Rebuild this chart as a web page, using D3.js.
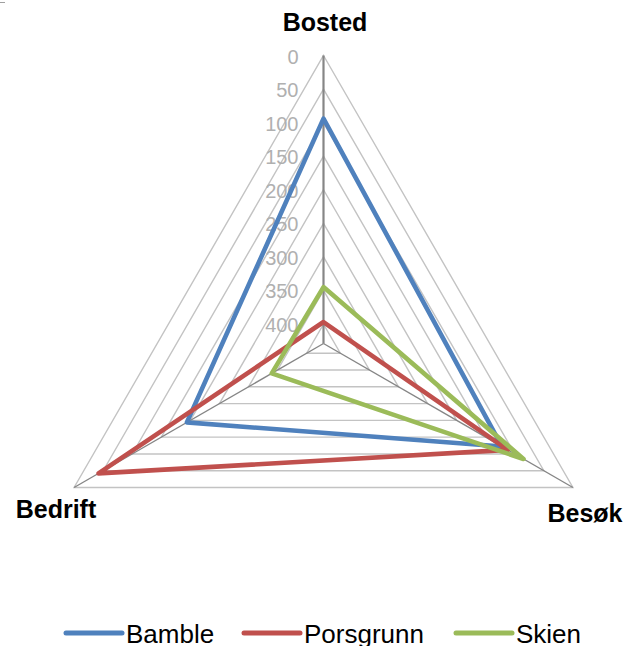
<!DOCTYPE html>
<html>
<head>
<meta charset="utf-8">
<script src="https://cdnjs.cloudflare.com/ajax/libs/d3/7.8.5/d3.min.js"></script>
<style>
  body { margin: 0; background: #fff; }
  svg { font-family: "Liberation Sans", Arial, sans-serif; }
</style>
</head>
<body>
<svg id="chart" width="639" height="646"></svg>
<script>
// data
var axes = ["Bosted", "Besøk", "Bedrift"];
var seriesNames = ["Bamble", "Porsgrunn", "Skien"];
var bamble = [94, 122, 194];
var porsgrunn = [397, 112, 42];
var skien = [345, 85, 340];
var tickValues = [0, 50, 100, 150, 200, 250, 300, 350, 400];
var colors = ["#4F81BD", "#C0504D", "#9BBB59"];

var cx = 323.5, cy = 343.5, R = 288;
var angles = [-90, 30, 150].map(a => a * Math.PI / 180);

// reversed value axis: 0 at the rim, max at the centre
var rScale = d3.scaleLinear().domain([0, 429]).range([R, 0]);

var svg = d3.select("#chart");

function pt(i, v) {
    var r = rScale(v);
    return [cx + r * Math.cos(angles[i]), cy + r * Math.sin(angles[i])];
}

// tiny border fragment top-left
svg.append("rect").attr("x", 0).attr("y", 2).attr("width", 5).attr("height", 1).attr("fill", "#a0a0a0");

// gridlines
var grid = svg.append("g").attr("id", "grid");
grid.selectAll("polygon")
    .data(tickValues)
    .enter().append("polygon")
    .attr("points", d => axes.map((a, i) => pt(i, d).join(",")).join(" "))
    .attr("fill", "none")
    .attr("stroke", "#c3c3c3")
    .attr("stroke-width", 1.4);

// spokes
svg.append("g").selectAll("line")
    .data(axes)
    .enter().append("line")
    .attr("x1", cx).attr("y1", cy)
    .attr("x2", (d, i) => pt(i, 0)[0])
    .attr("y2", (d, i) => pt(i, 0)[1])
    .attr("stroke", "#868686")
    .attr("stroke-width", (d, i) => i == 0 ? 2.2 : 1.4);

// tick labels along Bosted axis
svg.append("g").selectAll("text")
    .data(tickValues)
    .enter().append("text")
    .attr("x", cx - 25)
    .attr("y", d => cy - rScale(d) + 8)
    .attr("text-anchor", "end")
    .attr("font-size", 20)
    .attr("fill", "#b0b0b0")
    .text(d => d);

// series
var allSeries = [bamble, porsgrunn, skien];
var lineGen = d3.line().curve(d3.curveLinearClosed);
svg.append("g").selectAll("path")
    .data(allSeries)
    .enter().append("path")
    .attr("d", s => lineGen(s.map((v, i) => pt(i, v))))
    .attr("fill", "none")
    .attr("stroke", (d, i) => colors[i])
    .attr("stroke-width", 4.6)
    .attr("stroke-linejoin", "round");

// category labels
var labelPos = [
    {x: 325, y: 31, anchor: "middle"},
    {x: 585, y: 522, anchor: "middle"},
    {x: 56, y: 518, anchor: "middle"}
];
svg.append("g").selectAll("text")
    .data(axes)
    .enter().append("text")
    .attr("x", (d, i) => labelPos[i].x)
    .attr("y", (d, i) => labelPos[i].y)
    .attr("text-anchor", (d, i) => labelPos[i].anchor)
    .attr("font-size", 25)
    .attr("font-weight", "bold")
    .attr("fill", "#000")
    .text(d => d);

// legend
var legendX = [66, 244, 456];
var legend = svg.append("g").selectAll("g")
    .data(seriesNames)
    .enter().append("g")
    .attr("transform", (d, i) => "translate(" + legendX[i] + ",633)");
legend.append("line")
    .attr("x1", 0).attr("x2", 56)
    .attr("y1", 0).attr("y2", 0)
    .attr("stroke", (d, i) => colors[i])
    .attr("stroke-width", 5)
    .attr("stroke-linecap", "round");
legend.append("text")
    .attr("x", 60)
    .attr("y", 10)
    .attr("font-size", 26)
    .attr("fill", "#000")
    .text(d => d);
</script>
</body>
</html>
